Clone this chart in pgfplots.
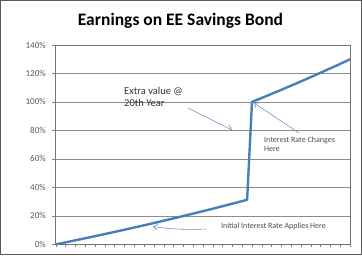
\documentclass[border=0pt]{standalone}
\usepackage{pgfplots}
\pgfplotsset{compat=1.18}
\usepackage{fontspec}
\setmainfont{Carlito}
\usetikzlibrary{arrows.meta}
\definecolor{serblue}{HTML}{4A7EBB}
\definecolor{arrblue}{HTML}{6E92C4}
\definecolor{gridgray}{HTML}{8C8C8C}
\definecolor{lblgray}{HTML}{595959}
\begin{document}
\begin{tikzpicture}[x=1pt,y=1pt]
\path[use as bounding box] (0,0) rectangle (362,255);
\draw[black!65, line width=1pt] (0.5,0.5) rectangle (361.5,254.5);
\begin{axis}[
  at={(56pt,10.7pt)}, anchor=south west,
  scale only axis, width=294pt, height=199.3pt,
  xmin=0, xmax=30, ymin=0, ymax=140,
  xtick={0,1,...,30}, xticklabels={},
  ytick={0,20,...,140},
  yticklabel={\pgfmathprintnumber{\tick}\%},
  /pgf/number format/assume math mode=true,
  yticklabel style={font=\fontsize{9}{10}\selectfont, text=lblgray, inner sep=0pt, xshift=-6pt},
  tick align=outside, major tick length=4pt,
  xtick style={/pgfplots/major tick length=3pt},
  xtick pos=bottom, ytick pos=left,
  tick style={draw=black!50, line width=0.6pt},
  ymajorgrids, major grid style={draw=gridgray, line width=0.6pt},
  axis line style={draw=black!55, line width=1pt},
  clip=false,
]
\addplot[serblue, line width=2.4pt, line join=round] coordinates {
(0,0) (0.5,0.70) (1,1.40) (1.5,2.11) (2,2.83) (2.5,3.55) (3,4.27) (3.5,5.00)
(4,5.74) (4.5,6.48) (5,7.22) (5.5,7.98) (6,8.73) (6.5,9.49) (7,10.26) (7.5,11.03)
(8,11.81) (8.5,12.59) (9,13.38) (9.5,14.17) (10,14.97) (10.5,15.78) (11,16.59)
(11.5,17.40) (12,18.22) (12.5,19.05) (13,19.89) (13.5,20.72) (14,21.57) (14.5,22.42)
(15,23.28) (15.5,24.14) (16,25.01) (16.5,25.88) (17,26.77) (17.5,27.65) (18,28.55)
(18.5,29.45) (19,30.35) (19.5,31.27)
(20,100.00) (20.5,101.40) (21,102.81) (21.5,104.23) (22,105.66) (22.5,107.10)
(23,108.55) (23.5,110.01) (24,111.48) (24.5,112.96) (25,114.45) (25.5,115.95)
(26,117.46) (26.5,118.98) (27,120.52) (27.5,122.06) (28,123.62) (28.5,125.18)
(29,126.76) (29.5,128.34) (30,129.94)
};
\end{axis}
\node[anchor=base, inner sep=0pt, font=\fontsize{17.5}{20}\selectfont\bfseries] at (180.5,229) {Earnings on EE Savings Bond};
\node[anchor=base west, inner sep=0pt, font=\fontsize{10.5}{12}\selectfont, text=black!80] at (124,160.7) {Extra value @};
\node[anchor=base west, inner sep=0pt, font=\fontsize{10.5}{12}\selectfont, text=black!80] at (124,149) {20th Year};
\node[anchor=base west, inner sep=0pt, font=\fontsize{8}{9.5}\selectfont, text=black!70] at (264,112.3) {Interest Rate Changes};
\node[anchor=base west, inner sep=0pt, font=\fontsize{8}{9.5}\selectfont, text=black!70] at (264,103.3) {Here};
\node[anchor=base west, inner sep=0pt, font=\fontsize{8}{9.5}\selectfont, text=black!70] at (221,26.7) {Initial Interest Rate Applies Here};
\draw[arrblue, line width=0.6pt, -{Straight Barb[length=4pt,width=6pt]}] (188,147) -- (232,125);
\draw[arrblue, line width=0.6pt, -{Straight Barb[length=4pt,width=6pt]}] (299,122) -- (254,152);
\draw[arrblue, line width=0.6pt, -{Straight Barb[length=4pt,width=6pt]}] (206,26) .. controls (185,25) and (170,26) .. (153,28.5);
\end{tikzpicture}
\end{document}
